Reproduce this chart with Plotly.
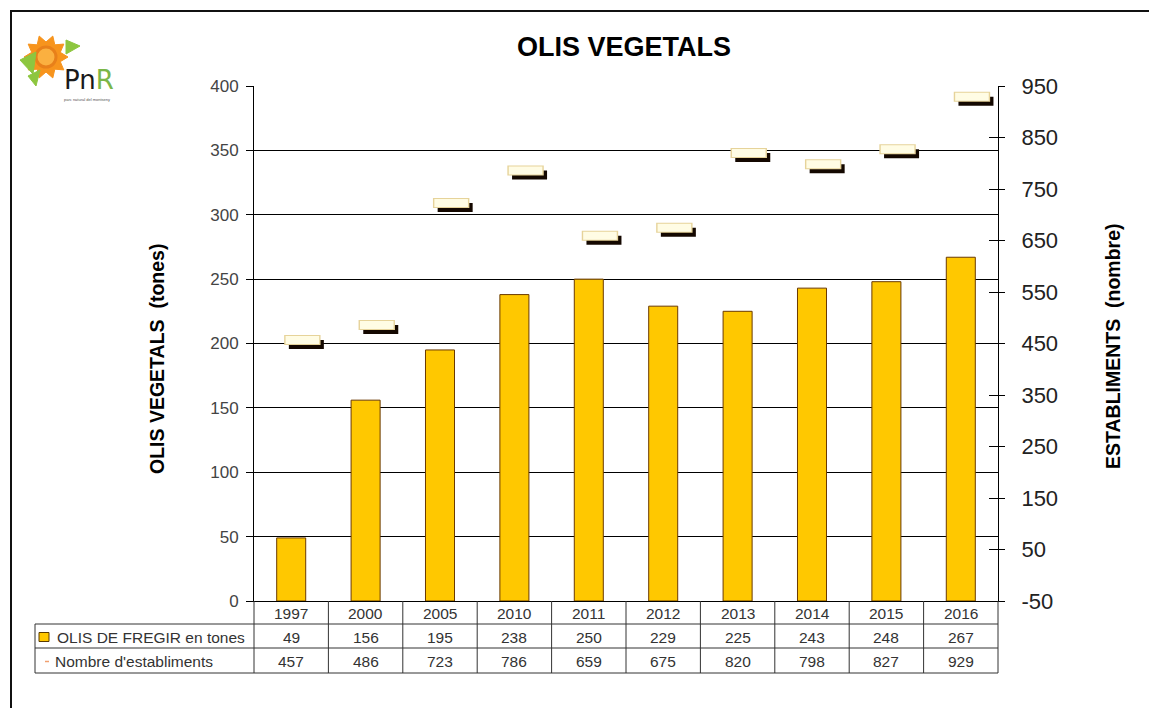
import numpy as np
import plotly.graph_objects as go

# ---------------- data ----------------
years = ["1997", "2000", "2005", "2010", "2011", "2012", "2013", "2014", "2015", "2016"]
olis_tones = [49, 156, 195, 238, 250, 229, 225, 243, 248, 267]
establiments = [457, 486, 723, 786, 659, 675, 820, 798, 827, 929]
left_ticks = [0, 50, 100, 150, 200, 250, 300, 350, 400]
right_ticks = [-50, 50, 150, 250, 350, 450, 550, 650, 750, 850, 950]
right_tick_text = ["-50", "50", "150", "250", "350", "450", "550", "650", "750", "850", "950"]
row_labels = ["OLIS DE FREGIR en tones", "Nombre d'establiments"]

# ---------------- geometry helpers ----------------
W, H = 1149, 708
L, R, T, B = 254, 998, 86, 601
PW, PH = R - L, B - T


def px(x):
    return (x - L) / PW


def py(y):
    return (B - y) / PH


n = len(years)
idx = list(range(n))
line_off = 0.15           # marker series drawn slightly right of the bar centre
shadow_dx = 4 / (PW / n)  # 4px shadow offset in category units
shadow_dy = 4.5 / (PH / 1000)  # px shadow offset in right-axis units

FONT = "Liberation Sans, Arial, sans-serif"

fig = go.Figure()

fig.add_trace(go.Bar(
    x=years, y=olis_tones, xaxis="x", yaxis="y",
    marker=dict(color="#FFC800", line=dict(color="#6b3a00", width=1)),
    width=0.39, showlegend=False, hoverinfo="x+y",
))
# shadow of the markers (subplot x2y3 is drawn beneath x3y2)
fig.add_trace(go.Scatter(
    x=years, y=establiments, xaxis="x2", yaxis="y3", mode="markers",
    marker=dict(symbol="line-ew", size=25, line=dict(color="#140800", width=9)),
    showlegend=False, hoverinfo="skip",
))
# cream markers with a tan outline, on the right value axis
fig.add_trace(go.Scatter(
    x=years, y=establiments, xaxis="x3", yaxis="y2", mode="markers",
    marker=dict(symbol="line-ew", size=26, line=dict(color="#E6D39A", width=10)),
    showlegend=False, hoverinfo="skip",
))
fig.add_trace(go.Scatter(
    x=years, y=establiments, xaxis="x3", yaxis="y2", mode="markers",
    marker=dict(symbol="line-ew", size=24, line=dict(color="#FFFCE4", width=8)),
    showlegend=False, hoverinfo="x+y",
))
# dummy for inside ticks of the right axis
fig.add_trace(go.Scatter(x=[years[0]], y=[None], xaxis="x", yaxis="y5",
                         mode="markers", showlegend=False, hoverinfo="skip"))

base_rng = [-0.5, n - 0.5]
fig.update_layout(
    width=W, height=H,
    margin=dict(l=L, r=W - R, t=T, b=H - B),
    paper_bgcolor="white", plot_bgcolor="white",
    font=dict(family=FONT, color="#333"),
    xaxis=dict(type="category", range=base_rng, showticklabels=False, ticks="",
               showgrid=False, showline=True, linecolor="#000", linewidth=1,
               zeroline=False, fixedrange=True),
    xaxis2=dict(type="category", overlaying="x", range=[base_rng[0] - line_off - shadow_dx, base_rng[1] - line_off - shadow_dx],
                visible=False, fixedrange=True),
    xaxis3=dict(type="category", overlaying="x", range=[base_rng[0] - line_off, base_rng[1] - line_off],
                visible=False, fixedrange=True),
    yaxis=dict(range=[0, 400], tickvals=left_ticks, ticks="outside", ticklen=7, tickcolor="#000",
               showgrid=True, gridcolor="#000", gridwidth=1, showline=True, linecolor="#000",
               zeroline=False, tickfont=dict(size=17, color="#444"), ticklabelstandoff=4,
               fixedrange=True),
    yaxis2=dict(overlaying="y", side="right", anchor="x", range=[-50, 950], tickvals=right_ticks,
                ticktext=right_tick_text,
                ticks="outside", ticklen=6, tickcolor="#000", showgrid=False, showline=True,
                linecolor="#000", zeroline=False, tickfont=dict(size=22, color="#222"),
                ticklabelstandoff=12, fixedrange=True),
    yaxis3=dict(overlaying="y", side="right", anchor="x", range=[-50 + shadow_dy, 950 + shadow_dy],
                visible=False, fixedrange=True),
    yaxis5=dict(overlaying="y", side="right", anchor="x", range=[-50, 950], tickvals=right_ticks,
                ticks="inside", ticklen=9, tickcolor="#000", showticklabels=False,
                showgrid=False, showline=False, zeroline=False, fixedrange=True),
)

shapes = []
ann = []


def text(x, y, s, size, color="#333", xanchor="center", yanchor="middle", xref="paper", **kw):
    ann.append(dict(x=x, y=y, xref=xref, yref="paper", text=s, showarrow=False,
                    xanchor=xanchor, yanchor=yanchor, font=dict(size=size, color=color), **kw))


# outer frame
shapes.append(dict(type="rect", xref="paper", yref="paper", x0=px(11), x1=px(1170), y0=py(11), y1=py(730),
                   line=dict(color="#111", width=2), layer="below"))

# table
r1, r2, r3 = 624, 648, 673
tbl_left = 35
line_c = "#333"
for k in range(n + 1):
    shapes.append(dict(type="line", xref="paper", yref="paper", x0=k / n, x1=k / n,
                       y0=py(B), y1=py(r3), line=dict(color=line_c, width=1)))
shapes.append(dict(type="line", xref="paper", yref="paper", x0=px(tbl_left), x1=px(tbl_left),
                   y0=py(r1), y1=py(r3), line=dict(color=line_c, width=1)))
for yy in (r1, r2, r3):
    shapes.append(dict(type="line", xref="paper", yref="paper", x0=px(tbl_left), x1=1,
                       y0=py(yy), y1=py(yy), line=dict(color=line_c, width=1)))

rows_y = [(B + r1) / 2 + 1, (r1 + r2) / 2 + 1, (r2 + r3) / 2 + 1]
for i in idx:
    text(i, py(rows_y[0]), years[i], 15.5, xref="x")
    text(i, py(rows_y[1]), str(olis_tones[i]), 15.5, xref="x")
    text(i, py(rows_y[2]), str(establiments[i]), 15.5, xref="x")

# row labels + legend keys
shapes.append(dict(type="rect", xref="paper", yref="paper", x0=px(39), x1=px(49),
                   y0=py(rows_y[1] - 4.5), y1=py(rows_y[1] + 4.5),
                   fillcolor="#FFC800", line=dict(color="#5a3a00", width=1)))
shapes.append(dict(type="line", xref="paper", yref="paper", x0=px(45), x1=px(49),
                   y0=py(rows_y[2]), y1=py(rows_y[2]), line=dict(color="#F0A070", width=1.5)))
text(px(55), py(rows_y[1]), row_labels[0], 15.5, xanchor="left")
text(px(53), py(rows_y[2]), row_labels[1], 15.5, xanchor="left")

# titles
text(px(624), py(47), "<b>OLIS VEGETALS</b>", 27, color="#000")
text(px(157), py(359), "<b>OLIS VEGETALS  (tones)</b>", 19.5, color="#000", textangle=-90)
text(px(1113), py(346), "<b>ESTABLIMENTS  (nombre)</b>", 19.5, color="#000", textangle=-90)

# logo (approximation)
cx, cy, ro, ri = 46, 57, 22, 15
pts = []
for k in range(20):
    ang = np.pi * k / 10
    rr = ro if k % 2 == 0 else ri
    pts.append((px(cx + rr * np.cos(ang)), py(cy + rr * np.sin(ang))))
path = "M " + " L ".join(f"{a},{b}" for a, b in pts) + " Z"
shapes.append(dict(type="path", xref="paper", yref="paper", path=path,
                   fillcolor="#F7941D", line=dict(color="#F7941D", width=1)))
shapes.append(dict(type="circle", xref="paper", yref="paper", x0=px(36), x1=px(56), y0=py(47), y1=py(67),
                   fillcolor="#FBB040", line=dict(color="#E8801A", width=3)))
for tri in [[(20, 60), (36, 52), (33, 74)], [(66, 40), (80, 46), (66, 54)], [(28, 76), (40, 70), (36, 86)]]:
    p = "M " + " L ".join(f"{px(a)},{py(b)}" for a, b in tri) + " Z"
    shapes.append(dict(type="path", xref="paper", yref="paper", path=p,
                       fillcolor="#8DC63F", line=dict(color="#8DC63F", width=1)))
ann.append(dict(x=px(62), y=py(80), xref="paper", yref="paper", xanchor="left", yanchor="middle",
                text="<span style='color:#1a1a1a'>Pn</span><span style='color:#7AB648'>R</span>",
                showarrow=False, font=dict(size=26, family="DejaVu Sans, sans-serif")))
text(px(62), py(99), "parc natural del montseny", 4, color="#555", xanchor="left")

fig.update_layout(shapes=shapes, annotations=ann)
fig.write_html("out.html", config={"displayModeBar": False},
               post_script="document.body.style.margin='0';document.body.style.padding='0';")
